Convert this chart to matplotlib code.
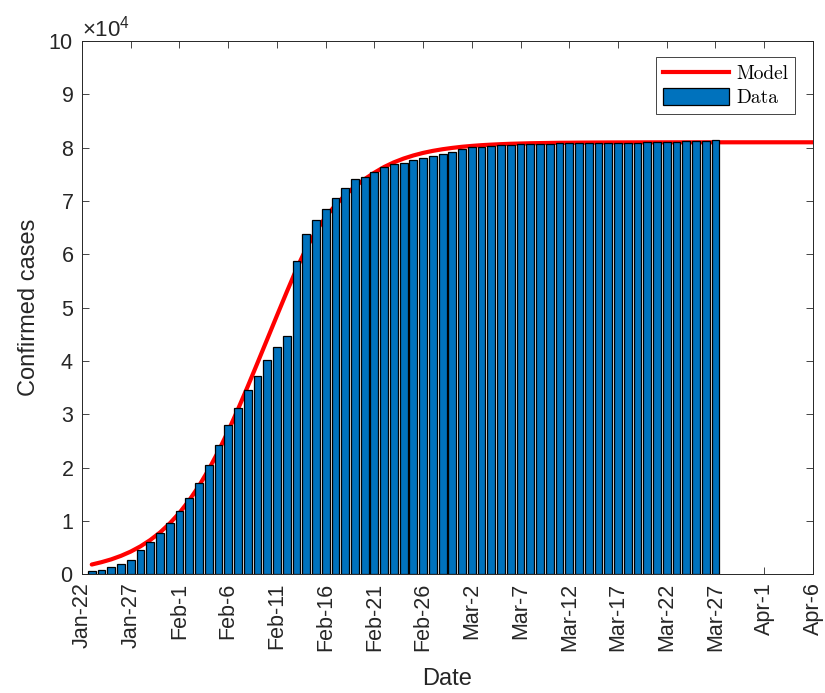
import numpy as np
import matplotlib
matplotlib.use('Agg')
import matplotlib.pyplot as plt
from matplotlib.patches import Patch
from matplotlib.lines import Line2D

plt.rcParams['font.family'] = ['Liberation Sans', 'DejaVu Sans']
plt.rcParams['mathtext.fontset'] = 'custom'
plt.rcParams['mathtext.rm'] = 'Liberation Sans'

# cumulative confirmed cases, one bar per day
cases = [571, 830, 1287, 1975, 2744, 4515, 5974, 7711, 9692, 11791,
         14380, 17205, 20438, 24324, 28018, 31161, 34546, 37198, 40171, 42638,
         44653, 58760, 63851, 66492, 68500, 70548, 72436, 74185, 74576, 75465,
         76288, 76936, 77150, 77658, 78064, 78497, 78824, 79251, 79824, 80026,
         80151, 80270, 80409, 80552, 80651, 80695, 80735, 80754, 80778, 80793,
         80813, 80824, 80844, 80860, 80881, 80894, 80928, 80967, 81008, 81054,
         81093, 81171, 81218, 81285, 81340]

# fitted model curve, one value per day
model = [1830, 2270, 2800, 3460, 4260, 5240, 6420, 7830, 9530, 11520,
         13870, 16560, 19640, 23080, 26860, 30930, 35200, 39610, 44050, 48500,
         52900, 57200, 61100, 64300, 67000, 69200, 71100, 72700, 74100, 75300,
         76370, 77240, 77950, 78530, 79010, 79390, 79700, 79950, 80160, 80320,
         80460, 80560, 80650, 80720, 80770, 80820, 80850, 80880, 80910, 80920,
         80940, 80950, 80960, 80970, 80975, 80980, 80985, 80988, 80990, 80992,
         80994, 80995, 80996, 80997, 80998, 80998, 80999, 80999, 80999, 81000,
         81000, 81000, 81000, 81000, 81000]

date_labels = ['Jan-22', 'Jan-27', 'Feb-1', 'Feb-6', 'Feb-11', 'Feb-16',
               'Feb-21', 'Feb-26', 'Mar-2', 'Mar-7', 'Mar-12', 'Mar-17',
               'Mar-22', 'Mar-27', 'Apr-1', 'Apr-6']

day_bar = np.arange(1, len(cases) + 1)
day_model = np.arange(1, len(model) + 1)
tick_days = np.arange(len(date_labels)) * 5

fig = plt.figure(figsize=(8.25, 6.93), dpi=100)
ax = fig.add_axes([0.0994, 0.1713, 0.886, 0.7696])

ax.plot(day_model, model, color='red', linewidth=3.0, zorder=1,
        solid_capstyle='round')
ax.bar(day_bar, cases, width=0.8, color='#0072BD', edgecolor='black',
       linewidth=0.9, zorder=2)

ax.set_xlim(0, 75)
ax.set_ylim(0, 1e5)
ax.set_yticks(np.arange(0, 100001, 10000))
ax.ticklabel_format(axis='y', style='sci', scilimits=(4, 4), useMathText=True)
ax.set_xticks(tick_days)
ax.set_xticklabels(date_labels, rotation=90)

ax.tick_params(direction='in', length=5, width=0.6, top=True, right=True,
               labelsize=15.5, colors='#262626', pad=6)
ax.yaxis.get_offset_text().set_fontsize(16)
for s in ax.spines.values():
    s.set_color('#262626')
    s.set_linewidth(0.7)

ax.set_xlabel('Date', fontsize=17, color='#262626')
ax.xaxis.set_label_coords(0.5, -0.176)
ax.set_ylabel('Confirmed cases', fontsize=17, color='#262626', labelpad=6)

handles = [Line2D([], [], color='red', linewidth=3.0),
           Patch(facecolor='#0072BD', edgecolor='black', linewidth=0.9)]
leg = ax.legend(handles, ['Model', 'Data'], loc='upper right',
                bbox_to_anchor=(0.976, 0.969), fancybox=False, framealpha=1,
                edgecolor='#262626', prop={'family': 'cmr10', 'size': 14},
                handlelength=3.4, handleheight=0.95, handletextpad=0.4,
                labelspacing=0.25, borderpad=0.35, borderaxespad=0)
leg.get_frame().set_linewidth(0.6)

fig.savefig('out.png', dpi=100)
